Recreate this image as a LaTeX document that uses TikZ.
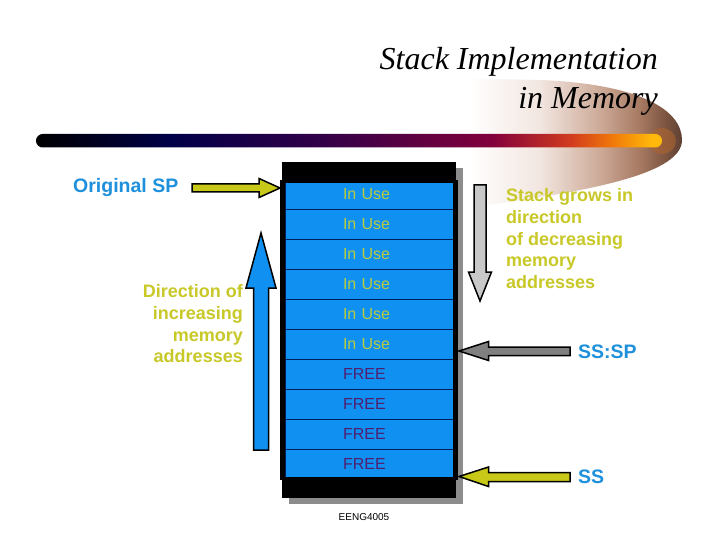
\documentclass[tikz,border=0pt]{standalone}
\usepackage{fontspec}
\setmainfont{Liberation Sans}
\newfontfamily\titlefont{Liberation Serif}
\definecolor{cellblue}{RGB}{16,144,240}
\definecolor{rowline}{RGB}{0,30,90}
\definecolor{inuse}{RGB}{184,204,64}
\definecolor{freec}{RGB}{80,30,110}
\definecolor{labelblue}{RGB}{30,144,220}
\definecolor{arrowyellow}{RGB}{200,200,24}
\definecolor{textyellow}{RGB}{200,200,40}
\definecolor{shadowgray}{RGB}{140,140,140}
\definecolor{lightarrow}{RGB}{200,200,200}
\definecolor{darkarrow}{RGB}{128,128,128}
\definecolor{bnavy}{RGB}{0,0,72}
\definecolor{bpurple}{RGB}{50,0,72}
\definecolor{bmaroon}{RGB}{130,0,60}
\definecolor{bred}{RGB}{210,60,30}
\definecolor{borange}{RGB}{240,120,10}
\definecolor{bgold}{RGB}{255,185,10}
\definecolor{sw1}{RGB}{242,230,224}
\definecolor{sw2}{RGB}{205,170,152}
\definecolor{sw3}{RGB}{165,120,96}
\definecolor{sw4}{RGB}{125,85,65}
\definecolor{sw5}{RGB}{95,65,50}
\definecolor{glow}{RGB}{170,100,48}
\pgfdeclarehorizontalshading{barshade}{100bp}{color(0bp)=(black); color(25bp)=(black); color(35.7bp)=(bnavy); color(47.8bp)=(bpurple); color(61.4bp)=(bmaroon); color(67.8bp)=(bred); color(71bp)=(borange); color(74.2bp)=(bgold); color(100bp)=(bgold)}
\pgfdeclarehorizontalshading{swooshshade}{100bp}{color(0bp)=(white); color(31bp)=(white); color(45.7bp)=(sw1); color(58bp)=(sw2); color(66.5bp)=(sw3); color(71.5bp)=(sw4); color(75bp)=(sw5); color(100bp)=(sw5)}
\tikzset{
  cell/.style={fill=cellblue, draw=rowline, line width=0.8pt, minimum width=168pt, minimum height=30pt, text width=52pt, align=left, inner sep=0pt, font=\fontsize{16}{19}\selectfont},
  usecell/.style={cell, text=inuse},
  freecell/.style={cell, text=freec},
  blockarrow/.style={draw=black, line width=1.5pt, line join=miter},
  boldlabel/.style={font=\bfseries\fontsize{19.5}{23}\selectfont, inner sep=0pt},
  yellowtext/.style={font=\bfseries\fontsize{18}{21.7}\selectfont, text=textyellow, inner sep=0pt}
}
\begin{document}
\begin{tikzpicture}[x=1pt,y=-1pt]
\useasboundingbox[fill=white] (0,0) rectangle (720,540);
% swoosh
\shade[shading=swooshshade] (440,78) -- (540,80) .. controls (640,84) and (682,110) .. (682,140) .. controls (682,172) and (600,190) .. (480,206) .. controls (440,210) and (440,150) .. cycle;
\fill[glow, opacity=0.6] (662,141) ellipse (14 and 13);
% bar
\shade[shading=barshade, rounded corners=6.7pt] (36,134) rectangle (662,147.5);
% title
\node[anchor=base east, inner sep=0pt, font=\titlefont\itshape\fontsize{32}{40}\selectfont] (t1) at (658,70) {Stack Implementation};
\node[anchor=base east, inner sep=0pt, font=\titlefont\itshape\fontsize{32}{40}\selectfont] (t2) at (658,109) {in Memory};
% stack
\fill[shadowgray] (289,168) rectangle (463,504);
\fill[black] (280,180) rectangle (458,480);
\node[usecell] (c1) at (369,194) {In Use};
\node[usecell] (c2) at (369,224) {In Use};
\node[usecell] (c3) at (369,254) {In Use};
\node[usecell] (c4) at (369,284) {In Use};
\node[usecell] (c5) at (369,314) {In Use};
\node[usecell] (c6) at (369,344) {In Use};
\node[freecell] (c7) at (369,374) {FREE};
\node[freecell] (c8) at (369,404) {FREE};
\node[freecell] (c9) at (369,434) {FREE};
\node[freecell] (c10) at (369,464) {FREE};
\fill[black] (282,162) rectangle (456,183);
\fill[black] (282,477) rectangle (456,498);
\fill[black] (280,180) rectangle (285,480);
\fill[black] (453,180) rectangle (458,480);
\node[inner sep=0pt, font=\fontsize{10}{12}\selectfont] (foot) at (364,517) {EENG4005};
% arrows
\coordinate (spTip) at (280,188);
\draw[blockarrow, fill=arrowyellow] (192,184) -- (259,184) -- (259,178.5) -- (spTip) -- (259,197.5) -- (259,192) -- (192,192) -- cycle;
\draw[blockarrow, fill=cellblue] (253.5,450) -- (253.5,288) -- (246,288) -- (261,233) -- (276,288) -- (268.5,288) -- (268.5,450) -- cycle;
\draw[blockarrow, fill=lightarrow] (474,185) -- (486,185) -- (486,272) -- (491.5,272) -- (480,301) -- (468.5,272) -- (474,272) -- cycle;
\coordinate (ssspTip) at (459,351);
\draw[blockarrow, fill=darkarrow] (570,347) -- (488.5,347) -- (488.5,341.5) -- (ssspTip) -- (488.5,360.5) -- (488.5,355.5) -- (570,355.5) -- cycle;
\coordinate (ssTip) at (459,476.5);
\draw[blockarrow, fill=arrowyellow] (570,472.5) -- (488.5,472.5) -- (488.5,467) -- (ssTip) -- (488.5,486.5) -- (488.5,481.5) -- (570,481.5) -- cycle;
% labels
\node[boldlabel, text=labelblue, anchor=west] (osp) at (73,188) {Original SP};
\node[boldlabel, text=labelblue, anchor=west] (sssp) at (578,352) {SS:SP};
\node[boldlabel, text=labelblue, anchor=west] (ss) at (578,477) {SS};
\node[yellowtext, anchor=north west, align=left] (grows) at (506,188.4) {Stack grows in\\direction\\of decreasing\\memory\\addresses};
\node[yellowtext, anchor=north east, align=right] (incr) at (243,284.4) {Direction of\\increasing\\memory\hspace*{4pt}\\addresses};
\end{tikzpicture}
\end{document}
